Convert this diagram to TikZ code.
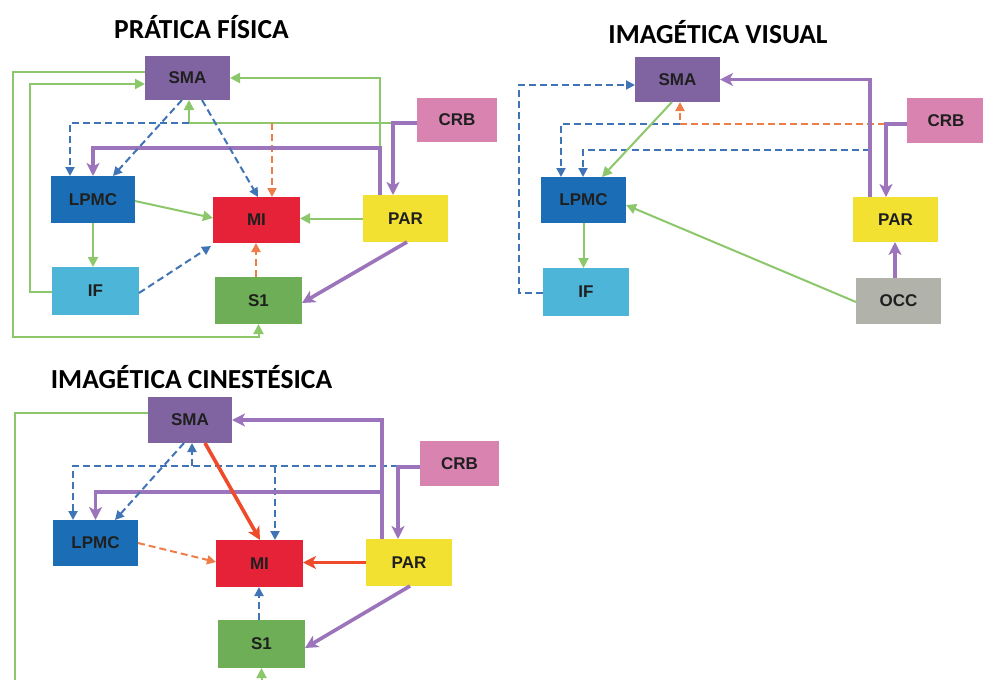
\documentclass[tikz,border=0pt]{standalone}
\usepackage{fontspec}
\setmainfont{Liberation Sans}
\newfontfamily\titlefont{Carlito}
\usetikzlibrary{arrows.meta}
\definecolor{cSMA}{HTML}{8064A2}
\definecolor{cCRB}{HTML}{D883B0}
\definecolor{cLPMC}{HTML}{1B6EB5}
\definecolor{cMI}{HTML}{E52238}
\definecolor{cPAR}{HTML}{F2E130}
\definecolor{cIF}{HTML}{4DB6D8}
\definecolor{cSone}{HTML}{6DAE57}
\definecolor{cOCC}{HTML}{B1B2AA}
\definecolor{lnG}{HTML}{8DC76B}
\definecolor{lnP}{HTML}{9C74BB}
\definecolor{lnB}{HTML}{3F74B6}
\definecolor{lnO}{HTML}{EF7D48}
\definecolor{lnR}{HTML}{EE4B2B}
\tikzset{
  box/.style={rectangle, inner sep=0pt, outer sep=0pt, text=black!88,
    font=\bfseries\fontsize{17}{17}\selectfont},
  ttl/.style={font=\titlefont\bfseries\fontsize{27.5}{27.5}\selectfont, anchor=base, inner sep=0pt},
  garrow/.style={draw=lnG, line width=2pt, -{Triangle[length=10pt,width=10pt]}},
  parrow/.style={draw=lnP, line width=3.6pt, -{Stealth[length=13pt,width=13pt,inset=3.5pt]}},
  bdash/.style={draw=lnB, line width=2pt, dash pattern=on 7pt off 4pt, -{Triangle[length=9pt,width=9pt]}},
  odash/.style={draw=lnO, line width=2pt, dash pattern=on 7pt off 4pt, -{Triangle[length=9pt,width=9pt]}},
  rarrow/.style={draw=lnR, line width=3.6pt, -{Stealth[length=13pt,width=13pt,inset=3.5pt]}}
}
\newcommand\mkbox[7]{\node[box, fill=#6, minimum width={(#4-#2)*1pt}, minimum height={(#5-#3)*1pt}] (#1) at ({(#2+#4)/2},{(#3+#5)/2}) {#7};}
\begin{document}
\begin{tikzpicture}[x=1pt,y=-1pt]
\clip (0,0) rectangle (983,680);
\fill[white] (0,0) rectangle (983,680);
% titles
\node[ttl] (t1) at (201.5,38) {PRÁTICA FÍSICA};
\node[ttl] (t2) at (718,43) {IMAGÉTICA VISUAL};
\node[ttl] (t3) at (191.5,388) {IMAGÉTICA CINESTÉSICA};
% ---------------- diagram 1
\mkbox{sma1}{145}{56}{230}{100}{cSMA}{SMA}
\mkbox{crb1}{417}{98}{497}{142}{cCRB}{CRB}
\mkbox{lpmc1}{51}{176}{135}{223}{cLPMC}{LPMC}
\mkbox{mi1}{213}{197}{300}{243}{cMI}{MI}
\mkbox{par1}{363}{195}{448}{242}{cPAR}{PAR}
\mkbox{if1}{52}{267}{139}{315}{cIF}{IF}
\mkbox{s11}{215}{277}{302}{324}{cSone}{S1}
\coordinate (j1) at (189,123);
\coordinate (j2) at (272,123);
\coordinate (j7) at (380,148);
\draw[garrow] ([yshift=6pt]sma1.west) -| (13,337) -| (s11.south);
\draw[garrow] ([yshift=-1pt]if1.west) -| (30,84) -- ([yshift=-6pt]sma1.west);
\draw[garrow] ([xshift=-25.5pt]par1.north) |- (sma1.east);
\draw[garrow] ([yshift=-3pt]crb1.west) -| ([xshift=1.5pt]sma1.south);
\draw[bdash] (j1) -| ([xshift=-23pt]lpmc1.north);
\draw[odash] (j2) -- ([xshift=15.5pt]mi1.north);
\draw[parrow] ([xshift=-25.5pt]par1.north) -- (j7) -| (lpmc1.north);
\draw[parrow] ([yshift=-3pt]crb1.west) -| ([xshift=-12.5pt]par1.north);
\draw[bdash] ([xshift=-5.5pt]sma1.south) -- ([xshift=20pt]lpmc1.north);
\draw[bdash] ([xshift=14.5pt]sma1.south) -- ([xshift=1.5pt]mi1.north);
\draw[garrow] ([yshift=-1.5pt]lpmc1.east) -- ([yshift=2pt]mi1.west);
\draw[garrow] (lpmc1.south) -- (lpmc1.south |- if1.north);
\draw[bdash] ([yshift=-2pt]if1.east) -- ([xshift=-2pt,yshift=-3pt]mi1.south west);
\draw[garrow] (par1.west) -- (par1.west -| mi1.east);
\draw[odash] ([xshift=-2.5pt]s11.north) -- ([xshift=-2.5pt]s11.north |- mi1.south);
\draw[parrow] ([xshift=1.5pt]par1.south) -- ([yshift=-2.5pt]s11.east);
% ---------------- diagram 2
\mkbox{sma2}{635}{57}{720}{102}{cSMA}{SMA}
\mkbox{crb2}{907}{98}{985}{143}{cCRB}{CRB}
\mkbox{lpmc2}{541}{177}{626}{223}{cLPMC}{LPMC}
\mkbox{if2}{543}{268}{629}{316}{cIF}{IF}
\mkbox{par2}{853}{197}{938}{242}{cPAR}{PAR}
\mkbox{occ2}{856}{278}{941}{324}{cOCC}{OCC}
\coordinate (j3) at (680,124);
\coordinate (j4) at (870,150);
\draw[bdash] ([yshift=-1pt]if2.west) -| (519,85) -- ([yshift=-5.5pt]sma2.west);
\draw[odash] ([yshift=-3.5pt]crb2.west) -| ([xshift=2.5pt]sma2.south);
\draw[bdash] (j3) -| ([xshift=-22.5pt]lpmc2.north);
\draw[bdash] (j4) -| ([xshift=-0.5pt]lpmc2.north);
\draw[parrow] ([xshift=-25.5pt]par2.north) |- (sma2.east);
\draw[parrow] ([yshift=-3.5pt]crb2.west) -| ([xshift=-9.5pt]par2.north);
\draw[garrow] ([xshift=-5.5pt]sma2.south) -- ([xshift=18.5pt]lpmc2.north);
\draw[garrow] (lpmc2.south) -- (lpmc2.south |- if2.north);
\draw[garrow] ([yshift=-1pt]occ2.west) -- ([yshift=-5pt]lpmc2.east);
\draw[parrow] ([xshift=-3.5pt]occ2.north) -- ([xshift=-3.5pt]occ2.north |- par2.south);
% ---------------- diagram 3
\mkbox{sma3}{148}{397}{232}{443}{cSMA}{SMA}
\mkbox{crb3}{420}{441}{499}{486}{cCRB}{CRB}
\mkbox{lpmc3}{53}{520}{138}{566}{cLPMC}{LPMC}
\mkbox{mi3}{216}{540}{303}{587}{cMI}{MI}
\mkbox{par3}{366}{539}{452}{586}{cPAR}{PAR}
\mkbox{s13}{218}{620}{305}{668}{cSone}{S1}
\coordinate (j5) at (192,466);
\coordinate (j6) at (275,466);
\coordinate (j8) at (382,492);
\draw[garrow] ([yshift=7pt]sma3.west) -| (15,681) -| (s13.south);
\draw[bdash] ([yshift=-2.5pt]crb3.west) -| ([xshift=-22.5pt]lpmc3.north);
\draw[bdash] (j5) -- ([xshift=2pt]sma3.south);
\draw[bdash] (j6) -- ([xshift=15.5pt]mi3.north);
\draw[parrow] ([xshift=-27pt]par3.north) |- (sma3.east);
\draw[parrow] ([xshift=-27pt]par3.north) -- (j8) -| (lpmc3.north);
\draw[parrow] ([yshift=-3.5pt]crb3.west) -| ([xshift=-11pt]par3.north);
\draw[bdash] ([xshift=-6pt]sma3.south) -- ([xshift=19.5pt]lpmc3.north);
\draw[rarrow] ([xshift=15pt]sma3.south) -- ([xshift=0.5pt]mi3.north);
\draw[odash] (lpmc3.east) -- ([yshift=1.5pt]mi3.west);
\draw[rarrow] (par3.west) -- (par3.west -| mi3.east);
\draw[bdash] ([xshift=-2.5pt]s13.north) -- ([xshift=-2.5pt]s13.north |- mi3.south);
\draw[parrow] ([xshift=1pt]par3.south) -- ([yshift=-4pt]s13.east);
\end{tikzpicture}
\end{document}
